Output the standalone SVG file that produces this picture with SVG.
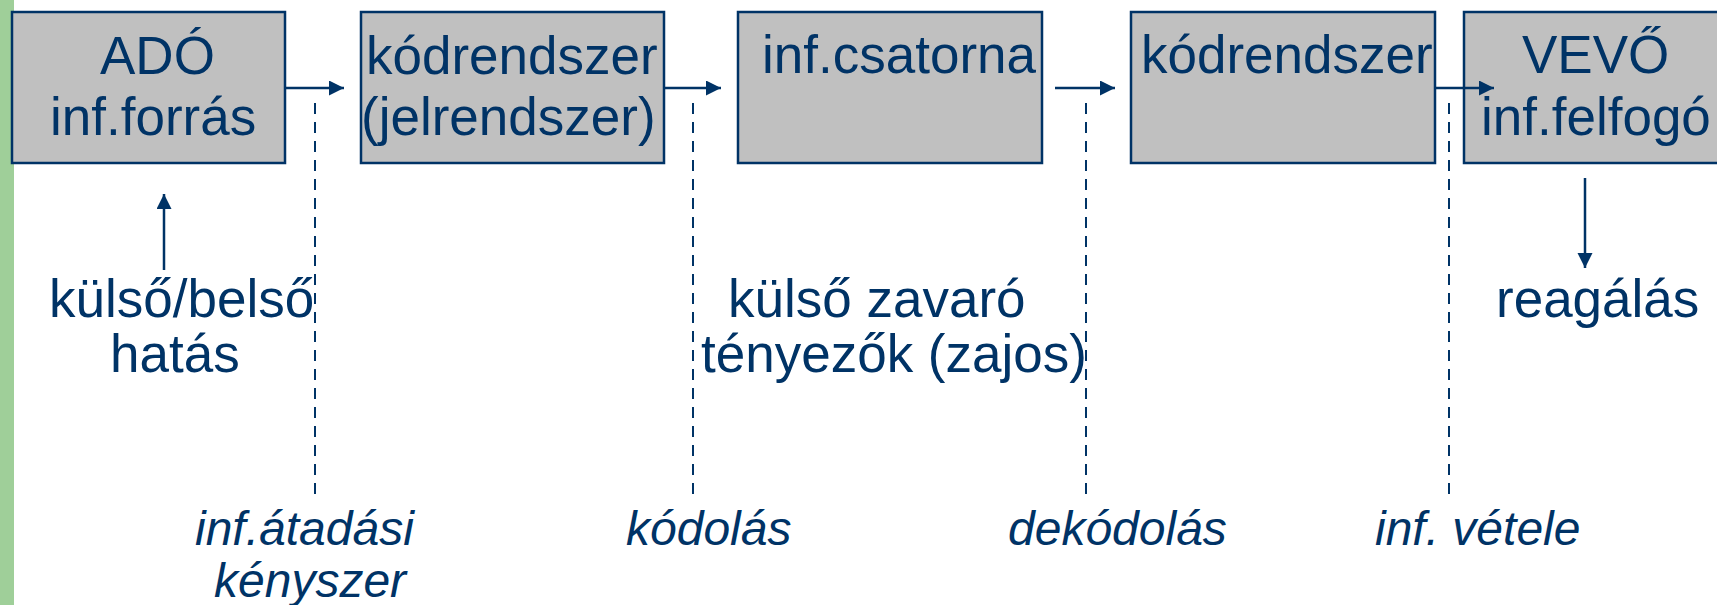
<svg xmlns="http://www.w3.org/2000/svg" width="1717" height="605" viewBox="0 0 1717 605">
  <style>
    .box { fill: #c0c0c0; stroke: #003366; stroke-width: 2.5; }
    .t { font-family: "Liberation Sans", Arial, sans-serif; font-size: 53px; fill: #003366; }
    .it { font-family: "Liberation Sans", Arial, sans-serif; font-size: 48px; font-style: italic; fill: #003366; }
    .arr { stroke: #003366; stroke-width: 2.5; fill: none; marker-end: url(#ah); }
    .dash { stroke: #003366; stroke-width: 2; stroke-dasharray: 11 8; fill: none; }
  </style>
  <defs>
    <marker id="ah" markerUnits="userSpaceOnUse" markerWidth="16" markerHeight="16" refX="15" refY="7.5" orient="auto">
      <path d="M0,0 L15,7.5 L0,15 Z" fill="#003366"/>
    </marker>
  </defs>
  <rect x="0" y="0" width="14" height="605" fill="#9fcf99"/>

  <g id="ado">
    <rect class="box" x="12" y="12" width="273" height="151"/>
    <text class="t" x="100" y="74">ADÓ</text>
    <text class="t" x="50" y="135">inf.forrás</text>
  </g>
  <g id="kodrendszer1">
    <rect class="box" x="361" y="12" width="303" height="151"/>
    <text class="t" x="366" y="74">kódrendszer</text>
    <text class="t" x="361" y="135">(jelrendszer)</text>
  </g>
  <g id="csatorna">
    <rect class="box" x="738" y="12" width="304" height="151"/>
    <text class="t" x="762" y="73">inf.csatorna</text>
  </g>
  <g id="kodrendszer2">
    <rect class="box" x="1131" y="12" width="304" height="151"/>
    <text class="t" x="1141" y="73">kódrendszer</text>
  </g>
  <g id="vevo">
    <rect class="box" x="1464" y="12" width="270" height="151"/>
    <text class="t" x="1522" y="73">VEVŐ</text>
    <text class="t" x="1481" y="135">inf.felfogó</text>
  </g>

  <g id="connectors">
    <line class="arr" x1="285" y1="88" x2="344" y2="88"/>
    <line class="arr" x1="664" y1="88" x2="721" y2="88"/>
    <line class="arr" x1="1055" y1="88" x2="1115" y2="88"/>
    <line class="arr" x1="1435" y1="88" x2="1494" y2="88"/>
    <line class="arr" x1="164" y1="270" x2="164" y2="194"/>
    <line class="arr" x1="1585" y1="178" x2="1585" y2="268"/>
    <line class="dash" x1="315" y1="103" x2="315" y2="495"/>
    <line class="dash" x1="693" y1="103" x2="693" y2="495"/>
    <line class="dash" x1="1086" y1="103" x2="1086" y2="495"/>
    <line class="dash" x1="1449" y1="103" x2="1449" y2="495"/>
  </g>

  <g id="labels">
    <text class="t" x="49" y="317">külső/belső</text>
    <text class="t" x="110" y="372">hatás</text>
    <text class="t" x="728" y="317">külső zavaró</text>
    <text class="t" x="701" y="372">tényezők (zajos)</text>
    <text class="t" x="1496" y="317">reagálás</text>
    <text class="it" x="195" y="545">inf.átadási</text>
    <text class="it" x="214" y="597">kényszer</text>
    <text class="it" x="626" y="545">kódolás</text>
    <text class="it" x="1008" y="545">dekódolás</text>
    <text class="it" x="1375" y="545">inf. vétele</text>
  </g>
</svg>
